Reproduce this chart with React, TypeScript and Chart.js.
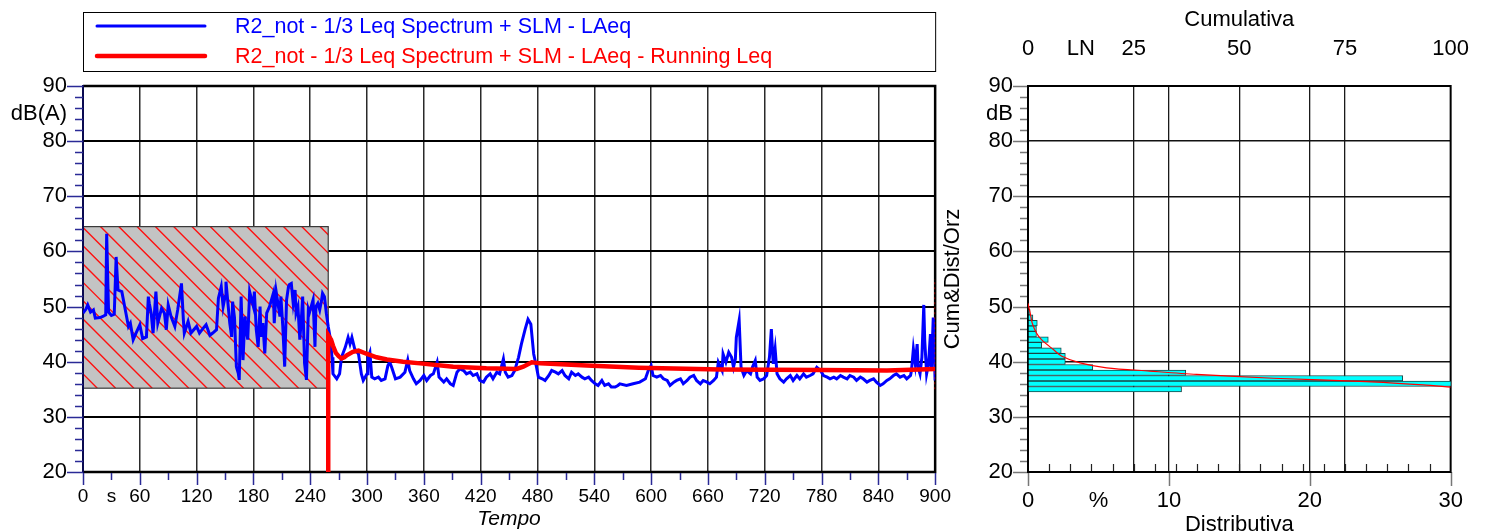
import React, { useEffect, useRef } from 'react';
import { Chart, registerables } from 'chart.js';

Chart.register(...registerables);

const FONT = '"Liberation Sans", Arial, Helvetica, sans-serif';

const SERIES_NAMES = [
  'R2_not - 1/3 Leq Spectrum + SLM - LAeq',
  'R2_not - 1/3 Leq Spectrum + SLM - LAeq - Running Leq',
];

// ---- LAeq time history (s, dB(A)) ----
const LAEQ_T_1 = [0, 3, 5, 8, 11, 13, 18, 21, 24, 25, 27, 30, 33, 35, 37, 41, 44, 48, 50, 53, 56, 60];
const LAEQ_DB_1 = [48.8, 49.5, 50.3, 49.0, 49.4, 47.9, 48.0, 48.2, 48.5, 63.2, 49.0, 48.4, 48.6, 59.0, 53.0, 52.7, 50.0, 46.4, 47.0, 44.0, 45.2, 46.7];
const LAEQ_T_2 = [63, 67, 69, 70, 72, 74, 77, 79, 83, 86, 88, 90, 93, 97, 100, 104, 106, 107, 111, 114, 120, 123, 127, 130];
const LAEQ_DB_2 = [44.2, 44.5, 51.8, 50.6, 48.8, 45.2, 52.7, 47.0, 49.7, 48.8, 45.8, 50.3, 48.2, 46.4, 49.4, 54.2, 47.6, 45.2, 47.3, 45.2, 46.4, 45.2, 46.1, 46.7];
const LAEQ_T_3 = [134, 137, 141, 143, 146, 148, 150, 151, 155, 157, 158, 160, 162, 164, 165, 167, 169, 171, 173, 174, 176, 180, 181, 183, 185, 187, 188, 190, 192, 194, 197, 201];
const LAEQ_DB_3 = [44.8, 45.2, 45.8, 51.5, 53.6, 50.0, 51.8, 54.5, 47.0, 44.5, 50.9, 48.0, 39.1, 37.9, 36.7, 51.8, 40.3, 48.2, 45.2, 44.0, 52.7, 50.0, 52.7, 45.8, 42.7, 50.0, 44.5, 47.0, 41.5, 48.8, 50.0, 52.4];
const LAEQ_T_4 = [202, 204, 208, 209, 211, 213, 215, 217, 218, 220, 222, 224, 225, 227, 229, 231, 232, 234, 236, 238, 239, 243, 245, 246, 248, 250, 252, 253, 255, 257, 259];
const LAEQ_DB_4 = [47.0, 52.7, 48.2, 51.8, 46.4, 39.1, 51.2, 53.6, 54.0, 54.2, 50.6, 53.0, 48.8, 50.0, 44.0, 48.8, 51.8, 39.7, 36.7, 49.4, 48.8, 51.2, 42.7, 50.0, 50.6, 49.4, 51.2, 52.4, 51.8, 48.8, 46.4];
const LAEQ_T_5 = [261, 263, 264, 268, 271, 273, 277, 280, 282, 284, 287, 291, 294, 296, 300, 301, 303, 305, 308, 312, 315, 319, 322, 324, 326, 330, 335, 340, 343, 345, 349, 352, 356, 360, 363, 367, 370, 374, 376, 381, 384, 388, 391, 395, 398];
const LAEQ_DB_5 = [44.4, 40.8, 37.8, 36.9, 37.8, 40.8, 42.6, 44.4, 43.2, 44.4, 42.3, 41.4, 37.8, 36.6, 37.8, 40.8, 41.7, 37.2, 36.9, 37.2, 36.6, 36.9, 39.3, 39.9, 39.0, 36.9, 37.2, 38.1, 40.3, 38.4, 36.9, 36.0, 36.6, 37.5, 36.6, 37.5, 37.8, 39.9, 37.2, 36.3, 36.9, 36.0, 35.7, 38.1, 38.7];
const LAEQ_T_6 = [402, 405, 409, 412, 416, 419, 423, 426, 430, 433, 437, 440, 444, 446, 449, 453, 456, 460, 463, 467, 470, 473, 476, 479, 481, 485, 488, 492, 495, 499, 502, 506, 509, 513, 516, 520, 523, 527, 530, 534, 537, 541, 544, 548, 551, 555, 558, 562, 565];
const LAEQ_DB_6 = [38.4, 37.8, 38.1, 37.5, 37.8, 36.6, 36.3, 37.2, 37.8, 36.9, 38.1, 37.8, 40.5, 38.1, 37.2, 37.5, 38.4, 40.8, 43.2, 45.9, 47.7, 46.8, 41.4, 39.0, 37.2, 36.9, 36.6, 37.5, 38.4, 38.1, 37.8, 38.4, 37.5, 36.9, 38.1, 37.5, 37.8, 37.2, 36.9, 37.2, 36.6, 36.0, 35.7, 36.6, 35.7, 36.0, 35.4, 35.4, 35.7];
const LAEQ_T_7 = [567, 574, 581, 588, 594, 597, 600, 602, 606, 610, 613, 617, 620, 624, 627, 631, 634, 638, 641, 645, 648, 652, 655, 659, 662, 666, 669, 671, 675, 676, 679, 682, 685, 687, 689, 690, 693, 695, 698];
const LAEQ_DB_7 = [36.0, 35.7, 36.0, 36.3, 36.9, 38.4, 39.3, 37.5, 37.2, 37.5, 36.9, 36.6, 35.7, 36.3, 36.6, 36.9, 36.0, 36.6, 37.2, 37.5, 36.6, 36.0, 36.6, 36.3, 36.0, 36.6, 37.2, 39.9, 38.4, 41.4, 39.9, 41.7, 40.8, 39.0, 40.5, 44.4, 47.5, 39.0, 37.5];
const LAEQ_T_8 = [701, 705, 707, 710, 712, 715, 719, 722, 725, 727, 729, 731, 733, 736, 740, 743, 747, 750, 754, 757, 761, 764, 768, 771, 775, 779, 782, 786, 789, 793, 796, 800, 803, 807, 810, 814, 817, 821, 824, 828, 831, 835, 838, 842, 845, 849, 852, 856, 859, 863, 867, 870, 874, 875, 877, 879, 881, 882, 884, 886, 888, 889, 891, 893, 895, 896, 898, 900];
const LAEQ_DB_8 = [38.4, 37.8, 39.0, 40.2, 37.2, 36.6, 36.9, 37.5, 40.8, 45.9, 39.6, 42.3, 37.8, 36.9, 36.3, 36.9, 37.5, 36.6, 37.5, 36.9, 37.8, 37.2, 37.5, 37.8, 39.0, 38.4, 37.5, 37.2, 36.9, 37.2, 36.9, 37.5, 37.2, 36.9, 37.5, 37.2, 36.6, 37.2, 36.9, 36.3, 36.6, 36.9, 36.3, 35.7, 36.0, 36.6, 36.9, 37.5, 37.8, 37.2, 37.5, 36.9, 37.5, 38.4, 42.3, 39.6, 43.2, 39.0, 37.8, 40.8, 50.3, 43.8, 37.8, 39.6, 45.0, 38.4, 48.0, 36.6];

// ---- Running Leq (s, dB(A)) ----
const RUN_T = [259, 259, 262, 264, 267, 270, 273, 276, 279, 285, 291, 300, 310, 321, 338, 356, 391, 426, 458, 465, 474, 483, 532, 587, 673, 779, 849, 900];
const RUN_DB = [20, 44.8, 44.0, 42.9, 41.6, 41.0, 40.6, 40.8, 41.2, 41.8, 42.0, 41.4, 40.8, 40.4, 40.0, 39.7, 39.1, 38.8, 38.7, 39.1, 39.9, 39.7, 39.3, 38.9, 38.6, 38.5, 38.4, 38.7];

// end marker (dotted) at the end of the measurement
const END_T = [900, 900];
const END_DB = [35, 55];

// masked (hatched) interval
const MASK_START = 0;
const MASK_END = 259;
const MASK_LOW = 35.2;
const MASK_HIGH = 64.5;

// ---- Distribution (dB class centre, %) ----
const HIST_DB = [35, 36, 37, 38, 39, 40, 41, 42, 43, 44, 45, 46, 47, 48, 49];
const HIST_PCT = [10.9, 31.5, 26.6, 11.2, 4.6, 2.65, 2.65, 2.36, 0.97, 1.44, 0.6, 0.6, 0.66, 0.35, 0.15];

// ---- Cumulative (%, dB) ----
const CUM_PCT = [0, 0.6, 1.0, 2.0, 3.2, 6.0, 8.0, 12.3, 18.6, 28.8, 39.9, 58, 80, 93.5, 100];
const CUM_DB = [50.6, 48.5, 47, 45.2, 44, 42.2, 41, 39.8, 38.9, 38.3, 37.7, 37.0, 36.4, 35.8, 35.4];

// ---- axes / tick labels ----
const TIME_MIN = 0;
const TIME_MAX = 900;
const TIME_TICKS = [0, 60, 120, 180, 240, 300, 360, 420, 480, 540, 600, 660, 720, 780, 840, 900];
const TIME_MINOR_STEP = 30;
const TIME_UNIT = { value: 30, label: 's' };

const LEVEL_MIN = 20;
const LEVEL_MAX = 90;
const LEVEL_TICKS = [20, 30, 40, 50, 60, 70, 80, 90];
const LEVEL_MINOR_STEP = 2;
const LEVEL_UNIT_LEFT = { value: 85, label: 'dB(A)' };
const LEVEL_UNIT_RIGHT = { value: 85, label: 'dB' };

const DIST_MAX = 30;
const DIST_TICKS = [0, 10, 20, 30];
const DIST_UNIT = { value: 5, label: '%' };
const CUM_MAX = 100;
const CUM_TICKS = [0, 25, 50, 75, 100];
const CUM_UNIT = { value: 12.5, label: 'LN' };
const CUM_MINOR_STEP = 5;

function range(a: number, b: number, step: number) {
  const out: number[] = [];
  for (let v = a; v <= b + 1e-9; v += step) out.push(Math.round(v * 1000) / 1000);
  return out;
}

function pairs(ts: number[], vs: number[]) {
  return ts.map((t, i) => ({ x: t, y: vs[i] }));
}

const leftDecor = {
  id: 'leftDecor',
  beforeDatasetsDraw(chart: any) {
    const { ctx, chartArea: a, scales } = chart;
    const x = scales.x;
    const y = scales.y;
    ctx.save();
    // hatched mask
    const x0 = x.getPixelForValue(MASK_START);
    const x1 = x.getPixelForValue(MASK_END);
    const y0 = y.getPixelForValue(MASK_HIGH);
    const y1 = y.getPixelForValue(MASK_LOW);
    ctx.fillStyle = '#c3c3c3';
    ctx.fillRect(x0, y0, x1 - x0, y1 - y0);
    ctx.save();
    ctx.beginPath();
    ctx.rect(x0, y0, x1 - x0, y1 - y0);
    ctx.clip();
    ctx.strokeStyle = '#ff1010';
    ctx.lineWidth = 1.4;
    ctx.beginPath();
    const h = y1 - y0;
    for (let s = x0 - h - 4; s < x1 + 2; s += 18.3) {
      ctx.moveTo(s, y0);
      ctx.lineTo(s + h, y1);
    }
    ctx.stroke();
    ctx.restore();
    ctx.strokeStyle = '#3a3a3a';
    ctx.lineWidth = 1.2;
    ctx.strokeRect(x0, y0, x1 - x0, y1 - y0);

    // frame
    ctx.strokeStyle = '#000';
    ctx.lineWidth = 2.5;
    ctx.beginPath();
    ctx.moveTo(a.left, a.top);
    ctx.lineTo(a.right, a.top);
    ctx.lineTo(a.right, a.bottom);
    ctx.lineTo(a.left, a.bottom);
    ctx.stroke();
    ctx.strokeStyle = '#0a0a50';
    ctx.lineWidth = 2;
    ctx.beginPath();
    ctx.moveTo(a.left, a.top - 1);
    ctx.lineTo(a.left, a.bottom + 1);
    ctx.stroke();

    // tick marks
    ctx.strokeStyle = '#2a2a96';
    ctx.lineWidth = 1.5;
    ctx.beginPath();
    range(LEVEL_MIN, LEVEL_MAX, LEVEL_MINOR_STEP).forEach((v) => {
      const py = Math.round(y.getPixelForValue(v)) + 0.5;
      const len = LEVEL_TICKS.includes(v) ? 16 : 8;
      ctx.moveTo(a.left - len, py);
      ctx.lineTo(a.left, py);
    });
    range(TIME_MIN, TIME_MAX, TIME_MINOR_STEP).forEach((v) => {
      const px = Math.round(x.getPixelForValue(v)) + 0.5;
      const len = TIME_TICKS.includes(v) ? 13 : 8;
      ctx.moveTo(px, a.bottom + 1);
      ctx.lineTo(px, a.bottom + len);
    });
    ctx.stroke();
    ctx.restore();
  },
  afterDraw(chart: any) {
    const { ctx, chartArea: a } = chart;
    ctx.save();
    ctx.strokeStyle = '#000';
    ctx.lineWidth = 1;
    ctx.strokeRect(a.left + 0.5, 12.5, a.right - a.left, 59);
    const rows = [
      { y: 26, color: '#0000ff', w: 3, text: SERIES_NAMES[0] },
      { y: 56, color: '#ff0000', w: 4.5, text: SERIES_NAMES[1] },
    ];
    ctx.font = `21.5px ${FONT}`;
    ctx.textBaseline = 'middle';
    ctx.textAlign = 'left';
    rows.forEach((r) => {
      ctx.strokeStyle = r.color;
      ctx.lineWidth = r.w;
      ctx.lineCap = 'round';
      ctx.beginPath();
      ctx.moveTo(a.left + 14, r.y);
      ctx.lineTo(a.left + 122, r.y);
      ctx.stroke();
      ctx.fillStyle = r.color;
      ctx.fillText(r.text, a.left + 152, r.y + 1);
    });
    ctx.restore();
  },
};

const rightDecor = {
  id: 'rightDecor',
  beforeDatasetsDraw(chart: any) {
    const { ctx, chartArea: a, scales } = chart;
    const y = scales.y;
    const x = scales.x;
    const x2 = scales.x2;
    ctx.save();
    ctx.strokeStyle = '#777';
    ctx.lineWidth = 1.5;
    ctx.beginPath();
    range(LEVEL_MIN, LEVEL_MAX, LEVEL_MINOR_STEP).forEach((v) => {
      const py = Math.round(y.getPixelForValue(v)) + 0.5;
      const len = LEVEL_TICKS.includes(v) ? 15 : 8;
      ctx.moveTo(a.left - len, py);
      ctx.lineTo(a.left, py);
    });
    DIST_TICKS.forEach((v) => {
      const px = Math.round(x.getPixelForValue(v)) + 0.5;
      ctx.moveTo(px, a.bottom);
      ctx.lineTo(px, a.bottom + 14);
    });
    ctx.stroke();
    ctx.strokeStyle = '#222';
    ctx.lineWidth = 1.2;
    ctx.beginPath();
    range(CUM_MINOR_STEP, CUM_MAX - CUM_MINOR_STEP, CUM_MINOR_STEP).forEach((v) => {
      const px = Math.round(x2.getPixelForValue(v)) + 0.5;
      ctx.moveTo(px, a.bottom);
      ctx.lineTo(px, a.bottom - 8);
    });
    ctx.stroke();
    ctx.strokeStyle = '#000';
    ctx.lineWidth = 2;
    ctx.strokeRect(a.left, a.top, a.right - a.left, a.bottom - a.top);
    ctx.restore();
  },
};

export default function App() {
  const leftRef = useRef<HTMLCanvasElement | null>(null);
  const rightRef = useRef<HTMLCanvasElement | null>(null);

  useEffect(() => {
    const laeq = [
      ...pairs(LAEQ_T_1, LAEQ_DB_1),
      ...pairs(LAEQ_T_2, LAEQ_DB_2),
      ...pairs(LAEQ_T_3, LAEQ_DB_3),
      ...pairs(LAEQ_T_4, LAEQ_DB_4),
      ...pairs(LAEQ_T_5, LAEQ_DB_5),
      ...pairs(LAEQ_T_6, LAEQ_DB_6),
      ...pairs(LAEQ_T_7, LAEQ_DB_7),
      ...pairs(LAEQ_T_8, LAEQ_DB_8),
    ];

    const left = new Chart(leftRef.current as HTMLCanvasElement, {
      type: 'line',
      data: {
        datasets: [
          {
            label: SERIES_NAMES[1],
            data: pairs(RUN_T, RUN_DB),
            borderColor: '#ff0000',
            borderWidth: 4.5,
            pointRadius: 0,
            tension: 0,
            order: 0,
          },
          {
            label: 'end',
            data: pairs(END_T, END_DB),
            borderColor: '#ff0000',
            borderWidth: 1.2,
            borderDash: [2, 3],
            pointRadius: 0,
            order: 1,
          },
          {
            label: SERIES_NAMES[0],
            data: laeq,
            borderColor: '#0000ff',
            borderWidth: 3,
            pointRadius: 0,
            tension: 0,
            order: 2,
          },
        ],
      },
      options: {
        animation: false,
        responsive: false,
        maintainAspectRatio: false,
        events: [],
        layout: { padding: { top: 86, right: 25, left: 0, bottom: 0 } },
        plugins: { legend: { display: false }, tooltip: { enabled: false } },
        scales: {
          x: {
            type: 'linear',
            position: 'bottom',
            offset: false,
            min: TIME_MIN,
            max: TIME_MAX,
            afterBuildTicks: (s: any) => {
              s.ticks = range(TIME_MIN, TIME_MAX, TIME_MINOR_STEP).map((v) => ({ value: v }));
            },
            afterFit: (s: any) => {
              s.height = 60;
            },
            ticks: {
              autoSkip: false,
              maxRotation: 0,
              padding: 13,
              color: '#000',
              font: { family: FONT, size: 19 },
              callback: (v: any) =>
                v === TIME_UNIT.value ? TIME_UNIT.label : TIME_TICKS.includes(v) ? String(v) : '',
            },
            grid: {
              offset: false,
              drawTicks: false,
              lineWidth: 1.5,
              color: (c: any) => {
                const v = c.tick ? c.tick.value : -1;
                return TIME_TICKS.includes(v) && v !== TIME_MIN && v !== TIME_MAX ? '#2a2a2a' : 'rgba(0,0,0,0)';
              },
            },
            border: { display: false },
            title: {
              display: true,
              text: 'Tempo',
              color: '#000',
              font: { family: FONT, size: 21, style: 'italic' },
              padding: { top: 0, bottom: 0 },
            },
          },
          y: {
            type: 'linear',
            offset: false,
            min: LEVEL_MIN,
            max: LEVEL_MAX,
            afterBuildTicks: (s: any) => {
              const vals = range(LEVEL_MIN, LEVEL_MAX, LEVEL_MINOR_STEP).concat([LEVEL_UNIT_LEFT.value]);
              vals.sort((p, q) => p - q);
              s.ticks = vals.map((v) => ({ value: v }));
            },
            afterFit: (s: any) => {
              s.width = 83;
            },
            ticks: {
              autoSkip: false,
              padding: 16,
              color: '#000',
              font: { family: FONT, size: 22 },
              callback: (v: any) =>
                v === LEVEL_UNIT_LEFT.value ? LEVEL_UNIT_LEFT.label : LEVEL_TICKS.includes(v) ? String(v) : '',
            },
            grid: {
              offset: false,
              drawTicks: false,
              lineWidth: 2,
              color: (c: any) => {
                const v = c.tick ? c.tick.value : -1;
                return LEVEL_TICKS.includes(v) && v !== LEVEL_MIN && v !== LEVEL_MAX ? '#000' : 'rgba(0,0,0,0)';
              },
            },
            border: { display: false },
          },
        },
      } as any,
      plugins: [leftDecor],
    } as any);

    const right = new Chart(rightRef.current as HTMLCanvasElement, {
      type: 'bar',
      data: {
        datasets: [
          {
            type: 'line',
            label: 'Cumulativa',
            data: pairs(CUM_PCT, CUM_DB),
            xAxisID: 'x2',
            yAxisID: 'y',
            borderColor: '#ff0000',
            borderWidth: 1.2,
            pointRadius: 0,
            tension: 0.3,
            order: 0,
          },
          {
            type: 'bar',
            label: 'Distributiva',
            data: HIST_PCT.map((p, i) => ({ x: p, y: HIST_DB[i] })),
            indexAxis: 'y',
            xAxisID: 'x',
            yAxisID: 'y',
            backgroundColor: '#00ffff',
            borderColor: '#1d4646',
            borderWidth: 1,
            barPercentage: 1,
            categoryPercentage: 1,
            grouped: false,
            clip: 0,
            order: 1,
          },
        ],
      },
      options: {
        animation: false,
        responsive: false,
        maintainAspectRatio: false,
        events: [],
        layout: { padding: { top: 0, right: 38, left: 0, bottom: 0 } },
        plugins: { legend: { display: false }, tooltip: { enabled: false } },
        scales: {
          x: {
            type: 'linear',
            position: 'bottom',
            offset: false,
            min: 0,
            max: DIST_MAX,
            afterBuildTicks: (s: any) => {
              const vals = DIST_TICKS.concat([DIST_UNIT.value]).sort((p, q) => p - q);
              s.ticks = vals.map((v) => ({ value: v }));
            },
            afterFit: (s: any) => {
              s.height = 88;
            },
            ticks: {
              autoSkip: false,
              maxRotation: 0,
              padding: 16,
              color: '#000',
              font: { family: FONT, size: 22 },
              callback: (v: any) => (v === DIST_UNIT.value ? DIST_UNIT.label : String(v)),
            },
            grid: {
              offset: false,
              drawTicks: false,
              lineWidth: 1.3,
              color: (c: any) => {
                const v = c.tick ? c.tick.value : -1;
                return v > 0 && v < DIST_MAX && v !== DIST_UNIT.value ? '#1a1a1a' : 'rgba(0,0,0,0)';
              },
            },
            border: { display: false },
            title: {
              display: true,
              text: 'Distributiva',
              color: '#000',
              font: { family: FONT, size: 22 },
              padding: { top: 0, bottom: 22 },
            },
          },
          x2: {
            type: 'linear',
            position: 'top',
            offset: false,
            min: 0,
            max: CUM_MAX,
            afterBuildTicks: (s: any) => {
              const vals = CUM_TICKS.concat([CUM_UNIT.value]).sort((p, q) => p - q);
              s.ticks = vals.map((v) => ({ value: v }));
            },
            afterFit: (s: any) => {
              s.height = 86;
            },
            ticks: {
              autoSkip: false,
              maxRotation: 0,
              padding: 24,
              color: '#000',
              font: { family: FONT, size: 22 },
              callback: (v: any) => (v === CUM_UNIT.value ? CUM_UNIT.label : String(v)),
            },
            grid: {
              offset: false,
              drawTicks: false,
              lineWidth: 1.3,
              color: (c: any) => {
                const v = c.tick ? c.tick.value : -1;
                return v > 0 && v < CUM_MAX && v !== CUM_UNIT.value ? '#1a1a1a' : 'rgba(0,0,0,0)';
              },
            },
            border: { display: false },
            title: {
              display: true,
              text: 'Cumulativa',
              color: '#000',
              font: { family: FONT, size: 22 },
              padding: { top: 7, bottom: 0 },
            },
          },
          y: {
            type: 'linear',
            position: 'left',
            offset: false,
            min: LEVEL_MIN,
            max: LEVEL_MAX,
            afterBuildTicks: (s: any) => {
              const vals = range(LEVEL_MIN, LEVEL_MAX, LEVEL_MINOR_STEP).concat([LEVEL_UNIT_RIGHT.value]);
              vals.sort((p, q) => p - q);
              s.ticks = vals.map((v) => ({ value: v }));
            },
            afterFit: (s: any) => {
              s.width = 88;
            },
            ticks: {
              autoSkip: false,
              padding: 15,
              color: '#000',
              font: { family: FONT, size: 22 },
              callback: (v: any) =>
                v === LEVEL_UNIT_RIGHT.value ? LEVEL_UNIT_RIGHT.label : LEVEL_TICKS.includes(v) ? String(v) : '',
            },
            grid: {
              offset: false,
              drawTicks: false,
              lineWidth: 1.5,
              color: (c: any) => {
                const v = c.tick ? c.tick.value : -1;
                return LEVEL_TICKS.includes(v) && v !== LEVEL_MIN && v !== LEVEL_MAX ? '#111' : 'rgba(0,0,0,0)';
              },
            },
            border: { display: false },
            title: {
              display: true,
              text: 'Cum&Dist/Orz',
              color: '#000',
              font: { family: FONT, size: 22 },
              padding: { top: 0, bottom: 0 },
            },
          },
        },
      } as any,
      plugins: [rightDecor],
    } as any);

    return () => {
      left.destroy();
      right.destroy();
    };
  }, []);

  return (
    <div
      style={{
        position: 'fixed',
        left: 0,
        top: 0,
        width: 1488,
        height: 532,
        overflow: 'hidden',
        background: '#fff',
      }}
    >
      <canvas ref={leftRef} width={964} height={532} style={{ position: 'absolute', left: 0, top: 0 }} />
      <canvas ref={rightRef} width={553} height={560} style={{ position: 'absolute', left: 940, top: 0 }} />
    </div>
  );
}
